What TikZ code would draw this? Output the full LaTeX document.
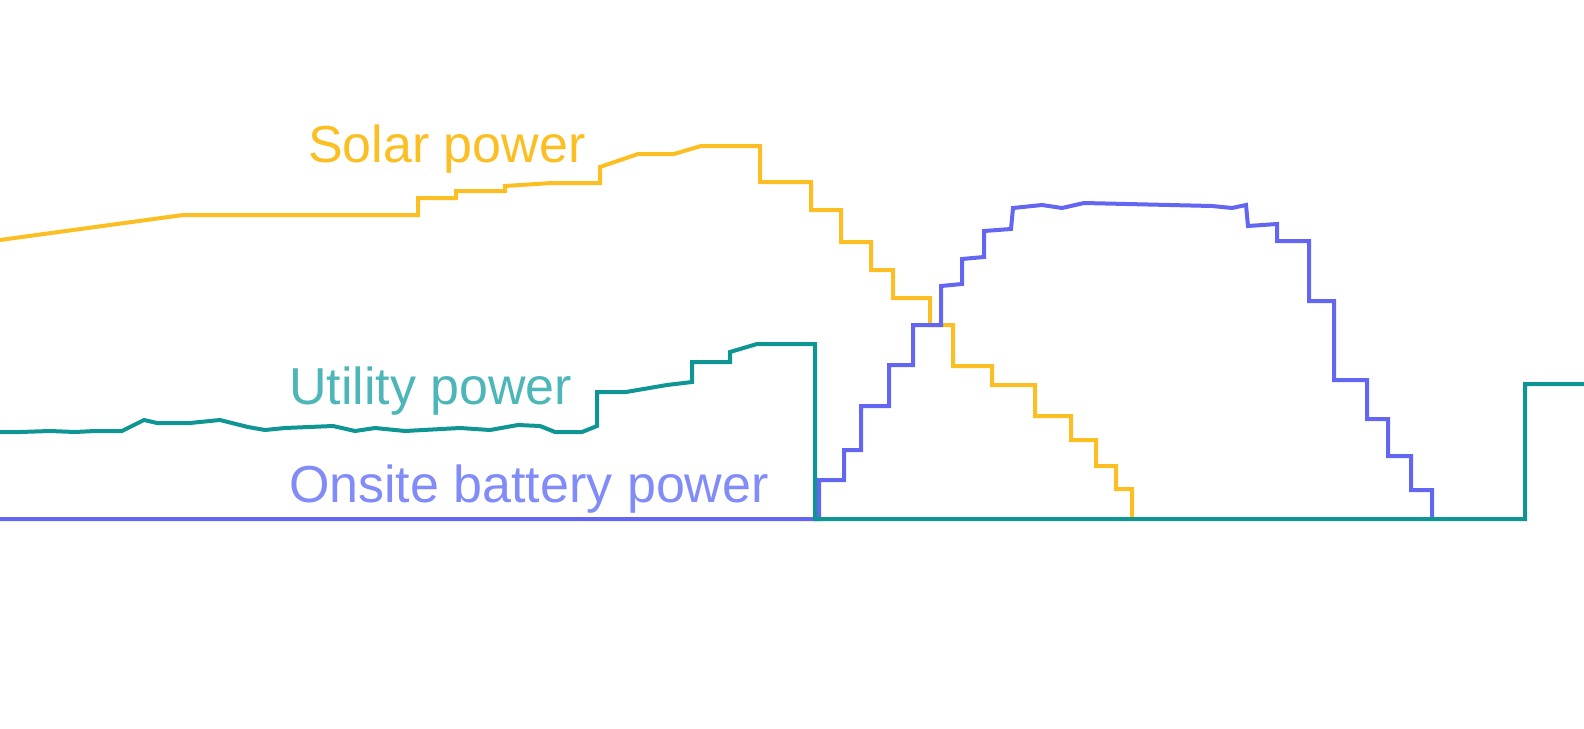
\documentclass[tikz,border=0pt]{standalone}
\usepackage{fontspec}
\setmainfont{Liberation Sans}
\begin{document}
\begin{tikzpicture}[x=1pt,y=-1pt,line width=4pt,line join=miter,
  lbl/.style={anchor=base west,inner sep=0pt,font=\fontsize{52}{58}\selectfont}]
\definecolor{solar}{HTML}{FBBF24}
\definecolor{util}{HTML}{0E9594}
\definecolor{batt}{HTML}{6366F1}
\definecolor{utill}{HTML}{4DB6B8}
\definecolor{battl}{HTML}{818CF8}
\draw[solar] (0,240) -- (183,215) -- (418,215) -- (418,198) -- (456,198) -- (456,191) -- (505,191) -- (505,186) -- (552,183) -- (600,183) -- (600,167) -- (638,154) -- (674,154) -- (701,146) -- (760,146) -- (760,182) -- (811,182) -- (811,210) -- (841,210) -- (841,242) -- (871,242) -- (871,270) -- (893,270) -- (893,298) -- (930,298) -- (930,325) -- (953,325) -- (953,366) -- (992,366) -- (992,385) -- (1035,385) -- (1035,416) -- (1071,416) -- (1071,440) -- (1096,440) -- (1096,466) -- (1116,466) -- (1116,489) -- (1132,489) -- (1132,520);
\draw[batt] (0,519) -- (819,519) -- (819,480) -- (844,480) -- (844,450) -- (861,450) -- (861,406) -- (889,406) -- (889,365) -- (913,365) -- (913,325) -- (941,325) -- (941,286) -- (962,284) -- (962,259) -- (984,257) -- (984,231) -- (1011,229) -- (1013,208) -- (1042,205) -- (1062,208) -- (1084,203) -- (1212,206) -- (1232,208) -- (1246,205) -- (1248,226) -- (1277,224) -- (1277,241) -- (1309,241) -- (1309,301) -- (1334,301) -- (1334,380) -- (1367,380) -- (1367,419) -- (1388,419) -- (1388,456) -- (1411,456) -- (1411,490) -- (1432,490) -- (1432,519);
\draw[util] (0,432) -- (20,432) -- (50,431) -- (75,432) -- (95,431) -- (122,431) -- (144,420) -- (157,423) -- (190,423) -- (220,420) -- (248,427) -- (265,430) -- (285,428) -- (333,426) -- (355,431) -- (375,428) -- (405,431) -- (460,428) -- (490,430) -- (518,425) -- (540,426) -- (555,432) -- (582,432) -- (597,426) -- (597,392) -- (626,392) -- (667,385) -- (692,382) -- (692,362) -- (730,362) -- (730,352) -- (757,344) -- (815,344) -- (815,519) -- (1525,519) -- (1525,384) -- (1584,384);
\node[lbl,text=solar] (s) at (306,162) {Solar power};
\node[lbl,text=utill] (u) at (287,404) {Utility power};
\node[lbl,text=battl] (b) at (287,502) {Onsite battery power};
\pgfresetboundingbox
\useasboundingbox (0,0) rectangle (1584,728);
\end{tikzpicture}
\end{document}
